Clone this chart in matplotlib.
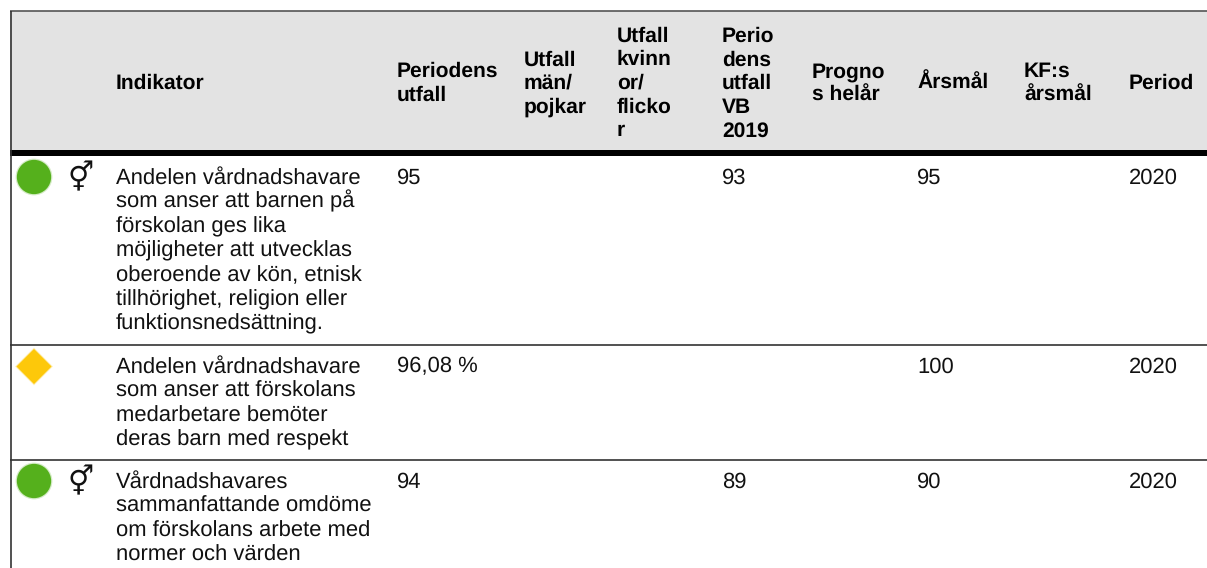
import matplotlib
matplotlib.use("Agg")
import matplotlib.pyplot as plt
from matplotlib.patches import Rectangle

plt.rcParams["font.family"] = ["Liberation Sans", "DejaVu Sans"]
plt.rcParams["text.hinting"] = "no_hinting"
plt.rcParams["text.hinting_factor"] = 1

# Tabellens innehåll
headers = ["Indikator", "Periodens\nutfall", "Utfall\nmän/\npojkar", "Utfall\nkvinn\nor/\nflicko\nr",
           "Perio\ndens\nutfall\nVB\n2019", "Progno\ns helår", "Årsmål", "KF:s\nårsmål", "Period"]
indicators = [
    "Andelen vårdnadshavare\nsom anser att barnen på\nförskolan ges lika\nmöjligheter att utvecklas\noberoende av kön, etnisk\ntillhörighet, religion eller\nfunktionsnedsättning.",
    "Andelen vårdnadshavare\nsom anser att förskolans\nmedarbetare bemöter\nderas barn med respekt",
    "Vårdnadshavares\nsammanfattande omdöme\nom förskolans arbete med\nnormer och värden",
]
period_outcome = ["95", "96,08 %", "94"]
outcome_vb = ["93", "", "89"]
year_goal = ["95", "100", "90"]
period = ["2020", "2020", "2020"]
status = ["circle", "diamond", "circle"]
gender = [True, False, True]

# Layout i pixlar
W, H = 1207, 568
col_x = [116, 397, 524, 617, 722, 812, 917, 1024, 1129]
row_top = [156, 345, 460]
FS = 15.5
FS_HEAD = 15.3
LINE = 24.4
HEAD_LINE = 23.7

fig = plt.figure(figsize=(W / 100, H / 100), dpi=100)
ax = fig.add_axes([0, 0, 1, 1])
ax.set_xlim(0, W)
ax.set_ylim(H, 0)
ax.axis("off")

ax.add_patch(Rectangle((10, 11), W - 10, 139, facecolor="#e3e3e3", edgecolor="none"))
ax.plot([10, W], [11, 11], color="#555555", lw=1.2, solid_capstyle="butt")
ax.plot([10.5, 10.5], [11, H], color="#333333", lw=1.2, solid_capstyle="butt")
ax.add_patch(Rectangle((10, 150), W - 10, 6, facecolor="black", edgecolor="none"))
for y in row_top[1:]:
    ax.plot([10, W], [y - 0.5, y - 0.5], color="#333333", lw=1.2, solid_capstyle="butt")

for x, label in zip(col_x, headers):
    lines = label.split("\n")
    y0 = 89 - (len(lines) - 1) * HEAD_LINE / 2
    for k, line in enumerate(lines):
        ax.text(x, y0 + k * HEAD_LINE, line, fontsize=FS_HEAD, fontweight="bold", color="black", ha="left", va="baseline")

for i, top in enumerate(row_top):
    base = top + 27.5
    for k, line in enumerate(indicators[i].split("\n")):
        ax.text(116, base + k * LINE, line, fontsize=FS, color="#111111", ha="left", va="baseline")
    for x, vals in zip([397, 722, 917, 1129], [period_outcome, outcome_vb, year_goal, period]):
        ax.text(x, base, vals[i], fontsize=FS, color="#111111", ha="left", va="baseline")
    if status[i] == "circle":
        ax.scatter([34], [top + 21], s=700, marker="o", color="#55b01c", alpha=0.25, edgecolors="none", zorder=3)
        ax.scatter([34], [top + 21], s=610, marker="o", color="#55b01c", edgecolors="none", zorder=3)
    else:
        ax.scatter([34], [top + 21.5], s=370, marker="D", color="#fdc80a", alpha=0.3, edgecolors="none", zorder=3)
        ax.scatter([34], [top + 21.5], s=320, marker="D", color="#fdc80a", edgecolors="none", zorder=3)
    if gender[i]:
        ax.text(81, top + 22, "\u26a5", fontsize=21, family="DejaVu Sans", color="#111111", ha="center", va="center")

fig.savefig("out.png", dpi=100, facecolor="white")
